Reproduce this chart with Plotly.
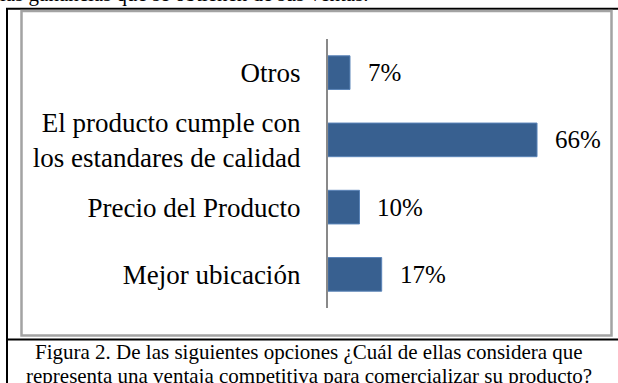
import plotly.graph_objects as go

# Survey answers (top to bottom) and their shares in percent
categories = [
    "Otros",
    "El producto cumple con<br>los estandares de calidad",
    "Precio del Producto",
    "Mejor ubicación",
]
shares = [7, 66, 10, 17]
share_labels = ["7%", "66%", "10%", "17%"]

caption_lines = [
    "Figura 2. De las siguientes opciones ¿Cuál de ellas considera que",
    "representa una ventaja competitiva para comercializar su producto?",
]
preceding_text = "las ganancias que se obtienen de sus ventas."

W, H = 618, 383
SERIF = "Liberation Serif"


def px(x):
    return x / W


def py(y):
    return 1 - y / H


fig = go.Figure(
    go.Bar(
        x=shares,
        y=categories,
        orientation="h",
        width=0.5,
        marker=dict(color="#386090", line=dict(color="#5a84b8", width=1)),
        hoverinfo="skip",
    )
)

# value labels just right of each bar end
for cat, val, lab in zip(categories, shares, share_labels):
    fig.add_annotation(
        x=val, y=cat, xref="x", yref="y", text=lab, showarrow=False,
        xanchor="left", yanchor="middle", xshift=16,
        font=dict(family=SERIF, size=25, color="#000000"),
    )

# caption below the chart frame
fig.add_annotation(
    x=px(309), y=py(352), xref="paper", yref="paper", text=caption_lines[0],
    showarrow=False, xanchor="center", yanchor="middle",
    font=dict(family=SERIF, size=21, color="#000000"),
)
fig.add_annotation(
    x=px(309), y=py(376), xref="paper", yref="paper", text=caption_lines[1],
    showarrow=False, xanchor="center", yanchor="middle",
    font=dict(family=SERIF, size=21, color="#000000"),
)
# tail of the paragraph above the figure
fig.add_annotation(
    x=px(-2), y=py(-5.5), xref="paper", yref="paper", text=preceding_text,
    showarrow=False, xanchor="left", yanchor="middle",
    font=dict(family=SERIF, size=21, color="#000000"),
)

shapes = [
    # outer black frame (left, top, separator above caption)
    dict(type="line", xref="paper", yref="paper",
         x0=px(7), x1=px(7), y0=py(8), y1=py(383),
         line=dict(color="#000000", width=2)),
    dict(type="line", xref="paper", yref="paper",
         x0=px(6), x1=px(618), y0=py(8.8), y1=py(8.8),
         line=dict(color="#000000", width=2)),
    dict(type="line", xref="paper", yref="paper",
         x0=px(6), x1=px(618), y0=py(339.5), y1=py(339.5),
         line=dict(color="#000000", width=2)),
    # grey chart area border
    dict(type="rect", xref="paper", yref="paper",
         x0=px(21.5), x1=px(611.5), y0=py(11), y1=py(335.5),
         line=dict(color="#a3a3a3", width=2.5)),
]

fig.update_layout(
    width=W, height=H,
    margin=dict(l=0, r=0, t=0, b=0),
    paper_bgcolor="#ffffff", plot_bgcolor="#ffffff",
    showlegend=False,
    shapes=shapes,
    xaxis=dict(
        domain=[px(327.8), px(581.4)], range=[0, 80],
        showgrid=False, zeroline=False, showline=False,
        showticklabels=False, ticks="",
    ),
    yaxis=dict(
        domain=[py(308), py(39)], autorange="reversed",
        showgrid=False, zeroline=False,
        showline=True, linecolor="#898989", linewidth=2,
        ticks="", ticklabelstandoff=20,
        tickfont=dict(family=SERIF, size=27, color="#000000"),
    ),
)

fig.write_html("out.html")
